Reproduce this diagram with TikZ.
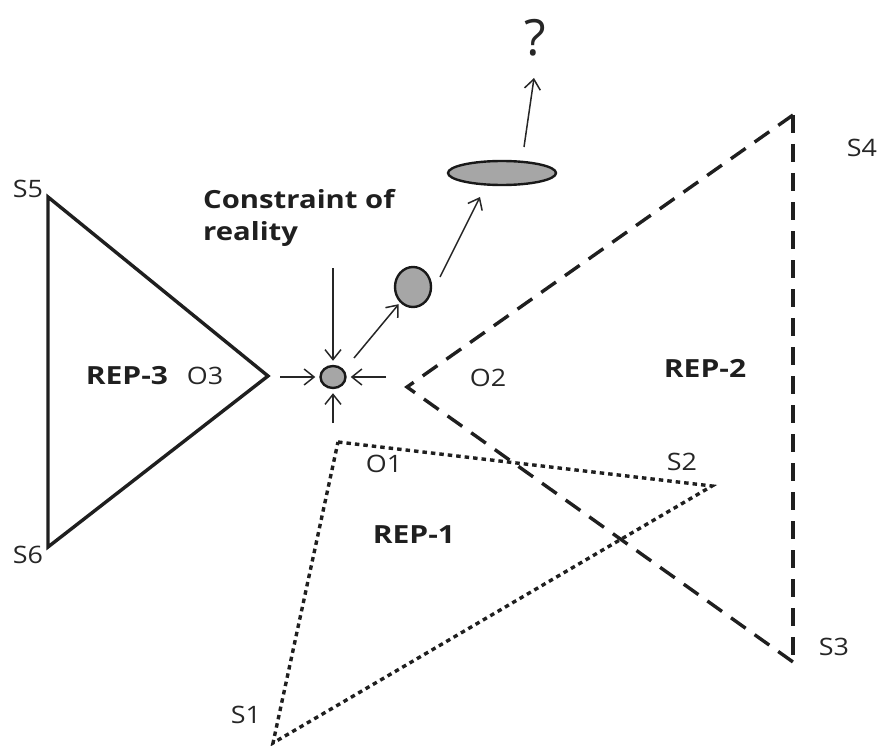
\documentclass[tikz,border=0pt]{standalone}
\usepackage{fontspec}
\usepackage{graphicx}
\setmainfont{Open Sans}
\usetikzlibrary{arrows.meta,shapes.geometric}
\newcommand{\wid}[2]{\scalebox{#1}[1]{#2}}
\begin{document}
\begin{tikzpicture}[x=1pt,y=-1pt,
  lbl/.style={font=\fontsize{24}{28}\selectfont, text=black!85, inner sep=0pt},
  blbl/.style={font=\fontsize{25}{28}\selectfont\bfseries, text=black!88, inner sep=0pt},
  clbl/.style={font=\fontsize{25}{30}\selectfont\bfseries, text=black!88, inner sep=0pt},
  arr/.style={draw=black!85, line width=1.5pt, shorten >=4pt, -{Straight Barb[length=10pt,width=16pt,line width=1.5pt]}},
  blob/.style={draw=black!90, fill=black!35, line width=2.4pt, inner sep=0pt, ellipse},
  tri/.style={draw=black!88, line width=3.4pt, line join=miter},
]
\useasboundingbox (0,0) rectangle (896,746);
% REP-3
\coordinate (S5) at (48,197);
\coordinate (S6) at (48,547);
\coordinate (O3) at (268,376);
\draw[tri] (S5) -- (O3) -- (S6) -- cycle;
% REP-2
\coordinate (S4) at (793,115);
\coordinate (S3) at (793,662);
\coordinate (O2) at (407,387);
\draw[tri, dash pattern=on 18pt off 11pt] (S4) -- (O2) -- (S3);
\draw[tri, dash pattern=on 18pt off 11pt] (S4) -- (S3);
% REP-1
\coordinate (O1) at (338,442);
\coordinate (S2) at (712,486);
\coordinate (S1) at (273,743);
\draw[tri, dash pattern=on 4.5pt off 4pt] (O1) -- (S2) -- (S1) -- cycle;
% labels
\node[lbl] (lS5) at (28,189) {\wid{1.12}{S5}};
\node[lbl] (lS6) at (28,555) {\wid{1.12}{S6}};
\node[lbl] (lS4) at (862,148) {\wid{1.12}{S4}};
\node[lbl] (lS3) at (834,647) {\wid{1.12}{S3}};
\node[lbl] (lS2) at (682,462) {\wid{1.12}{S2}};
\node[lbl] (lS1) at (246,715) {\wid{1.12}{S1}};
\node[lbl] (lO1) at (384,464) {\wid{1.12}{O1}};
\node[lbl] (lO2) at (488,378) {\wid{1.12}{O2}};
\node[lbl] (lO3) at (205,376) {\wid{1.12}{O3}};
\node[blbl] (r3) at (127,376) {\wid{1.2}{REP-3}};
\node[blbl] (r2) at (705,368) {\wid{1.2}{REP-2}};
\node[blbl] (r1) at (414,535) {\wid{1.2}{REP-1}};
\node[clbl, anchor=west] (c1) at (203,199) {\wid{1.17}{Constraint of}};
\node[clbl, anchor=west] (c2) at (203,234) {\wid{1.17}{reality}};
\node[font=\fontsize{50}{54}\selectfont, text=black!85, inner sep=0pt] (q) at (535,38) {?};
% blobs
\node[blob, minimum width=25pt, minimum height=22pt] (b1) at (333,377) {};
\node[blob, minimum width=36pt, minimum height=40pt] (b2) at (413,287) {};
\node[blob, minimum width=108pt, minimum height=24pt] (b3) at (502,173) {};
% arrows
\coordinate (aL) at (280,377);
\coordinate (aR) at (386,377);
\coordinate (aT) at (333,268);
\coordinate (aB) at (333,423);
\coordinate (aD) at (354,358);
\coordinate (aE) at (440,277);
\coordinate (aF) at (524,147);
\coordinate (q1) at (534,78);
\draw[arr] (aL) -- (b1);
\draw[arr] (aR) -- (b1);
\draw[arr] (aT) -- (b1);
\draw[arr] (aB) -- (b1);
\draw[arr, shorten >=2pt] (aD) -- (b2);
\draw[arr, shorten >=0pt] (aE) -- (480,197);
\draw[arr, shorten >=0pt] (aF) -- (q1);
\end{tikzpicture}
\end{document}
